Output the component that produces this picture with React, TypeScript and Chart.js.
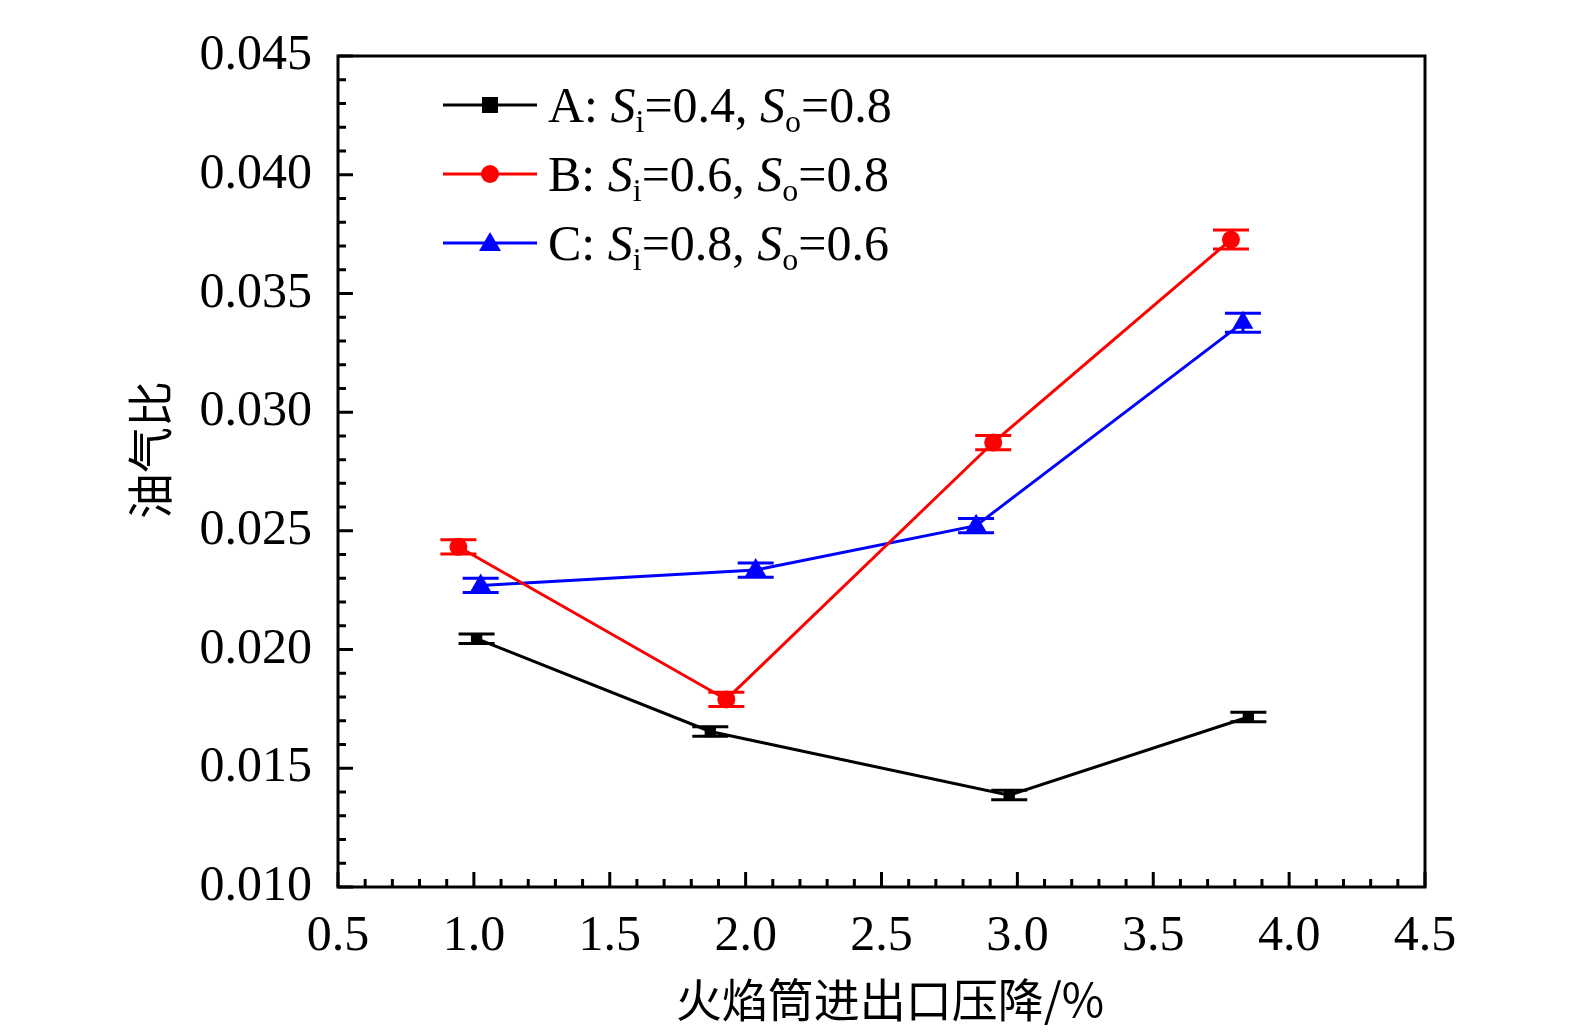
import React, { useEffect, useRef } from "react";
import { Chart, registerables } from "chart.js";
Chart.register(...registerables);

const seriesNames = ["A", "B", "C"];
const siValues = ["0.4", "0.6", "0.8"];
const soValues = ["0.8", "0.8", "0.6"];
const colors = ["#000000", "#ff0000", "#0000ff"];
const markers = ["rect", "circle", "triangle"];
const xA = [1.01, 1.87, 2.97, 3.85];
const yA = [0.02046, 0.01655, 0.01387, 0.01716];
const eA = [0.0002, 0.0002, 0.0002, 0.0002];
const xB = [0.943, 1.929, 2.911, 3.786];
const yB = [0.02433, 0.0179, 0.02872, 0.03727];
const eB = [0.0003, 0.0003, 0.0003, 0.0004];
const xC = [1.025, 2.037, 2.848, 3.83];
const yC = [0.0227, 0.02335, 0.02522, 0.03377];
const eC = [0.0003, 0.0003, 0.0003, 0.0004];
const xTitle = "火焰筒进出口压降/%";
const yTitle = "油气比";

const FONT = "'Liberation Serif', 'DejaVu Serif', serif";
const CJK = "'Noto Sans CJK SC', sans-serif";

export default function App() {
  const ref = useRef<HTMLCanvasElement>(null);
  useEffect(() => {
    document.body.style.margin = "0";
    const xs = [xA, xB, xC], ys = [yA, yB, yC], es = [eA, eB, eC];
    const datasets = xs.map((xv, i) => ({
      label: seriesNames[i],
      data: xv.map((x, j) => ({ x, y: ys[i][j] })),
      borderColor: colors[i],
      backgroundColor: colors[i],
      borderWidth: 3,
      pointStyle: markers[i] as any,
      pointRadius: i === 0 ? 8 : i === 1 ? 9 : 12,
      pointBorderWidth: 0,
    }));
    const plugin = {
      id: "extras",
      afterDatasetsDraw(chart: any) {
        const ctx = chart.ctx;
        const sx = chart.scales.x, sy = chart.scales.y;
        const a = chart.chartArea;
        ctx.save();
        xs.forEach((xv, i) => {
          ctx.strokeStyle = colors[i];
          ctx.lineWidth = 3;
          xv.forEach((x, j) => {
            const px = sx.getPixelForValue(x);
            const t = sy.getPixelForValue(ys[i][j] + es[i][j]);
            const b = sy.getPixelForValue(ys[i][j] - es[i][j]);
            ctx.beginPath();
            ctx.moveTo(px, t); ctx.lineTo(px, b);
            ctx.moveTo(px - 18, t); ctx.lineTo(px + 18, t);
            ctx.moveTo(px - 18, b); ctx.lineTo(px + 18, b);
            ctx.stroke();
          });
        });
        ctx.strokeStyle = "#000";
        ctx.lineWidth = 3;
        ctx.strokeRect(a.left, a.top, a.right - a.left, a.bottom - a.top);
        ctx.beginPath();
        for (let k = 0; k <= 40; k++) {
          const px = sx.getPixelForValue(0.5 + k * 0.1);
          const len = k % 5 === 0 ? 15 : 8;
          ctx.moveTo(px, a.bottom); ctx.lineTo(px, a.bottom - len);
        }
        for (let k = 0; k <= 35; k++) {
          const py = sy.getPixelForValue(0.01 + k * 0.001);
          const len = k % 5 === 0 ? 15 : 8;
          ctx.moveTo(a.left, py); ctx.lineTo(a.left + len, py);
        }
        ctx.stroke();
        // axis titles
        ctx.fillStyle = "#000";
        ctx.textAlign = "center";
        ctx.textBaseline = "middle";
        ctx.font = `46px ${CJK}`;
        ctx.fillText(xTitle, 890, 1000);
        ctx.save();
        ctx.translate(150, 450);
        ctx.rotate(-Math.PI / 2);
        ctx.fillText(yTitle, 0, 0);
        ctx.restore();
        // legend
        ctx.textAlign = "left";
        ctx.textBaseline = "alphabetic";
        for (let i = 0; i < 3; i++) {
          const y = 105 + i * 69;
          ctx.strokeStyle = colors[i];
          ctx.fillStyle = colors[i];
          ctx.lineWidth = 3;
          ctx.beginPath(); ctx.moveTo(443, y); ctx.lineTo(537, y); ctx.stroke();
          const cx = 490;
          ctx.beginPath();
          if (i === 0) ctx.rect(cx - 8, y - 8, 16, 16);
          else if (i === 1) ctx.arc(cx, y, 9, 0, Math.PI * 2);
          else { ctx.moveTo(cx, y - 11); ctx.lineTo(cx + 11, y + 8); ctx.lineTo(cx - 11, y + 8); ctx.closePath(); }
          ctx.fill();
          ctx.fillStyle = "#000";
          const base = y + 17;
          let tx = 548;
          const put = (s: string, f: string, dy = 0) => {
            ctx.font = f; ctx.fillText(s, tx, base + dy); tx += ctx.measureText(s).width;
          };
          put(seriesNames[i] + ": ", `50px ${FONT}`);
          put("S", `italic 50px ${FONT}`);
          put("i", `32px ${FONT}`, 10);
          put("=" + siValues[i] + ", ", `50px ${FONT}`);
          put("S", `italic 50px ${FONT}`);
          put("o", `32px ${FONT}`, 10);
          put("=" + soValues[i], `50px ${FONT}`);
        }
        ctx.restore();
      },
    };
    const chart = new Chart(ref.current!, {
      type: "line",
      data: { datasets },
      plugins: [plugin],
      options: {
        animation: false,
        responsive: false,
        layout: { padding: { top: 3, right: 150, left: 0, bottom: 0 } },
        plugins: { legend: { display: false }, tooltip: { enabled: false } },
        scales: {
          x: {
            type: "linear", min: 0.5, max: 4.5,
            grid: { display: false, drawTicks: false },
            border: { display: false },
            ticks: { stepSize: 0.5, color: "#000", font: { family: FONT, size: 50 }, padding: 20, callback: (v: any) => Number(v).toFixed(1) },
            afterFit: (s: any) => { s.height = 149; },
          },
          y: {
            type: "linear", min: 0.01, max: 0.045,
            grid: { display: false, drawTicks: false },
            border: { display: false },
            ticks: { stepSize: 0.005, color: "#000", font: { family: FONT, size: 50 }, padding: 26, callback: (v: any) => Number(v).toFixed(3) },
            afterFit: (s: any) => { s.width = 338; },
          },
        },
      },
    });
    return () => chart.destroy();
  }, []);
  return <canvas ref={ref} width={1575} height={1036} style={{ display: "block", background: "#fff" }} />;
}
